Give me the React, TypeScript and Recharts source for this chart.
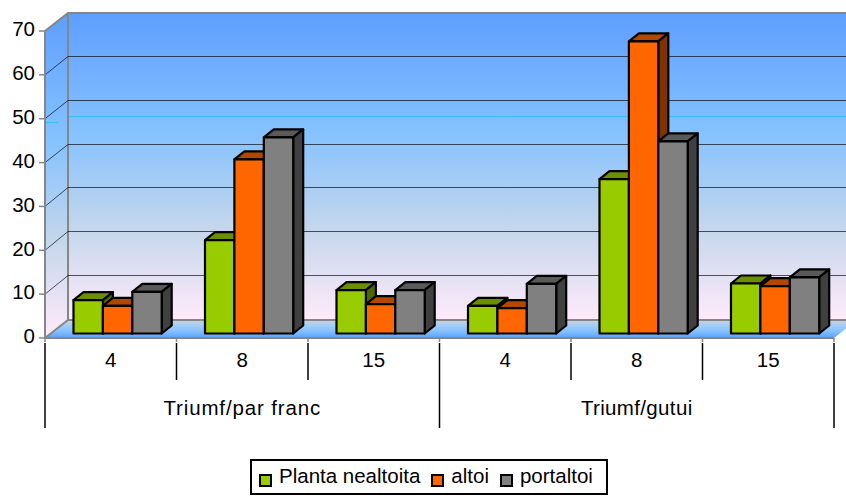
import React from 'react';
import { BarChart, Bar, XAxis, YAxis, CartesianGrid, Legend, usePlotArea } from 'recharts';

const doses = ['4', '8', '15', '4', '8', '15'];
const rootstocks = ['Triumf/par franc', 'Triumf/par franc', 'Triumf/par franc', 'Triumf/gutui', 'Triumf/gutui', 'Triumf/gutui'];
const plantaNealtoita = [7.6, 21.3, 9.9, 6.3, 35.2, 11.4];
const altoi = [6.3, 39.7, 6.7, 5.8, 66.6, 10.8];
const portaltoi = [9.5, 44.7, 9.9, 11.3, 43.8, 12.8];
const yTicks = [0, 10, 20, 30, 40, 50, 60, 70];

const chartData = doses.map((dose, i) => ({
    dose,
    rootstock: rootstocks[i],
    plantaNealtoita: plantaNealtoita[i],
    altoi: altoi[i],
    portaltoi: portaltoi[i],
}));

const FONT = '"Liberation Sans", Arial, sans-serif';
const FONT_SIZE = 20.5;
const AXIS_GREY = '#868686';

// oblique offset of the back wall relative to the front plane
const WALL_DX = 23;
const WALL_DY = -18;
// bars stand part way into the floor
const BAR_DX = 6.5;
const BAR_DY = -4.5;
const BAR_DEPTH_X = 10;
const BAR_DEPTH_Y = -8;

const Walls = () => {
    const plot = usePlotArea();
    if (!plot) return null;
    const left = plot.x;
    const right = plot.x + plot.width;
    const top = plot.y;
    const bottom = plot.y + plot.height;
    const bandY = top + plot.height * 0.3;
    return (
        <g>
            <defs>
                <linearGradient id="wallFill" x1="0" y1="0" x2="0" y2="1">
                    <stop offset="0%" stopColor="#5E9EFF" />
                    <stop offset="39%" stopColor="#85C2FF" />
                    <stop offset="70%" stopColor="#C4D6EB" />
                    <stop offset="100%" stopColor="#FFEBFA" />
                </linearGradient>
                <linearGradient id="floorFill" x1="0" y1="1" x2="0" y2="0">
                    <stop offset="0%" stopColor="#5E9EFF" />
                    <stop offset="39%" stopColor="#85C2FF" />
                    <stop offset="100%" stopColor="#C4D6EB" />
                </linearGradient>
            </defs>
            <rect x={left + WALL_DX} y={top + WALL_DY} width={plot.width + 20} height={plot.height} fill="url(#wallFill)" />
            <polygon
                points={`${left},${top} ${left + WALL_DX},${top + WALL_DY} ${left + WALL_DX},${bottom + WALL_DY} ${left},${bottom}`}
                fill="url(#wallFill)"
            />
            <polygon
                points={`${left},${bottom} ${left + WALL_DX},${bottom + WALL_DY} ${right + WALL_DX},${bottom + WALL_DY} ${right},${bottom}`}
                fill="url(#floorFill)"
            />
            <line x1={left + WALL_DX} x2={846} y1={bandY - 6.5} y2={bandY - 6.5} stroke="#35BDF5" strokeWidth={1} />
            <line x1={left} x2={left + 13} y1={bandY - 0.5} y2={bandY - 0.5} stroke="#35BDF5" strokeWidth={1} />
            <polyline
                points={`${left},${top} ${left + WALL_DX},${top + WALL_DY} ${846},${top + WALL_DY}`}
                fill="none"
                stroke={AXIS_GREY}
                strokeWidth={2}
            />
            <line x1={left + WALL_DX} x2={left + WALL_DX} y1={top + WALL_DY} y2={bottom + WALL_DY} stroke={AXIS_GREY} strokeWidth={2} />
            <polyline
                points={`${left},${bottom} ${left + WALL_DX},${bottom + WALL_DY} ${846},${bottom + WALL_DY}`}
                fill="none"
                stroke={AXIS_GREY}
                strokeWidth={2}
            />
        </g>
    );
};

// gridline on the back wall plus its diagonal across the left wall
const WallGridLine = ({ x1, x2, y1 }: any) => {
    if (y1 === undefined || y1 < 32 || y1 > 337) return null;
    const backY = Math.round(y1 + WALL_DY - 1) + 0.5;
    return (
        <g stroke="#000" strokeOpacity={0.65} strokeWidth={1}>
            <line x1={x1 + WALL_DX} x2={x2 + 20} y1={backY} y2={backY} />
            <line x1={x1} x2={x1 + WALL_DX} y1={y1} y2={backY} />
        </g>
    );
};

const Bar3D = ({ x, y, width, height, fill, topFill, sideFill }: any) => {
    const fx = x + BAR_DX;
    const fy = y + BAR_DY;
    const dx = BAR_DEPTH_X;
    const dy = BAR_DEPTH_Y;
    return (
        <g stroke="#000" strokeWidth={2.2} strokeLinejoin="round">
            <polygon points={`${fx},${fy} ${fx + dx},${fy + dy} ${fx + width + dx},${fy + dy} ${fx + width},${fy}`} fill={topFill} />
            <polygon
                points={`${fx + width},${fy} ${fx + width + dx},${fy + dy} ${fx + width + dx},${fy + height + dy} ${fx + width},${fy + height}`}
                fill={sideFill}
            />
            <rect x={fx} y={fy} width={width} height={height} fill={fill} />
        </g>
    );
};

// two-level category labels: dose under each bar group, rootstock under each triple
const MultiLevelTick = ({ x, payload, index }: any) => {
    const plot = usePlotArea();
    if (!plot) return null;
    const bottom = plot.y + plot.height;
    const step = plot.width / doses.length;
    const edge = x + step / 2;
    const sep = (px: number, long: boolean, key: string) => (
        <g key={key}>
            <line x1={px} x2={px} y1={bottom} y2={bottom + 4} stroke={AXIS_GREY} strokeWidth={1.5} />
            <line x1={px} x2={px} y1={bottom + 5} y2={bottom + (long ? 90 : 42)} stroke="#000" strokeWidth={1.5} />
        </g>
    );
    return (
        <g fontFamily={FONT} fontSize={FONT_SIZE} fill="#000">
            {index === 0 && sep(x - step / 2, true, 'start')}
            {sep(edge, (index + 1) % 3 === 0, 'edge')}
            <text x={x} y={bottom + 29} textAnchor="middle">{payload.value}</text>
            {index % 3 === 1 && (
                <text x={x} y={bottom + 77} textAnchor="middle" letterSpacing={index === 1 ? 0.85 : 0.35}>
                    {rootstocks[index]}
                </text>
            )}
        </g>
    );
};

const LegendBox = ({ payload }: any) => (
    <div
        style={{
            boxSizing: 'border-box',
            width: 358,
            height: 36,
            border: '2px solid #000',
            background: '#fff',
            display: 'flex',
            alignItems: 'center',
            paddingLeft: 7,
            fontFamily: FONT,
            fontSize: FONT_SIZE,
            color: '#000',
            whiteSpace: 'nowrap',
        }}
    >
        {(payload || []).map((item: any) => (
            <span key={item.value} style={{ display: 'inline-flex', alignItems: 'center', marginRight: 11 }}>
                <span
                    style={{
                        boxSizing: 'border-box',
                        display: 'inline-block',
                        width: 13,
                        height: 13,
                        marginRight: 7,
                        marginTop: 6,
                        border: '2px solid #000',
                        background: item.color,
                    }}
                />
                <span style={{ marginTop: -3 }}>{item.value}</span>
            </span>
        ))}
    </div>
);

export default function App() {
    return (
        <div style={{ position: 'absolute', left: 0, top: 0, width: 846, height: 496, background: '#fff' }}>
            <BarChart
                width={846}
                height={496}
                data={chartData}
                margin={{ top: 31, right: 12, bottom: 0, left: 0 }}
                barSize={29.4}
                barGap={0}
            >
                <Walls />
                <CartesianGrid zIndex={100} vertical={false} horizontal={(props: any) => <WallGridLine {...props} />} />
                <XAxis
                    dataKey="dose"
                    height={158}
                    interval={0}
                    tickLine={false}
                    axisLine={{ stroke: AXIS_GREY, strokeWidth: 2 }}
                    tick={(props: any) => <MultiLevelTick {...props} />}
                />
                <YAxis
                    width={45}
                    domain={[0, 70]}
                    ticks={yTicks}
                    interval={0}
                    tickSize={6}
                    tickMargin={4}
                    tick={{ fontFamily: FONT, fontSize: FONT_SIZE, fill: '#000', dy: -2 }}
                    tickLine={{ stroke: AXIS_GREY, strokeWidth: 1.5 }}
                    axisLine={{ stroke: AXIS_GREY, strokeWidth: 2 }}
                />
                <Legend
                    layout="horizontal"
                    verticalAlign="middle"
                    align="center"
                    content={<LegendBox />}
                    wrapperStyle={{ position: 'absolute', left: 250, top: 459, width: 358, height: 36 }}
                />
                <Bar
                    dataKey="plantaNealtoita"
                    name="Planta nealtoita"
                    fill="#99CC00"
                    isAnimationActive={false}
                    shape={(p: any) => <Bar3D {...p} topFill="#6B8F00" sideFill="#4D6600" />}
                />
                <Bar
                    dataKey="altoi"
                    name="altoi"
                    fill="#FF6600"
                    isAnimationActive={false}
                    shape={(p: any) => <Bar3D {...p} topFill="#B34700" sideFill="#803300" />}
                />
                <Bar
                    dataKey="portaltoi"
                    name="portaltoi"
                    fill="#808080"
                    isAnimationActive={false}
                    shape={(p: any) => <Bar3D {...p} topFill="#5A5A5A" sideFill="#404040" />}
                />
            </BarChart>
        </div>
    );
}
